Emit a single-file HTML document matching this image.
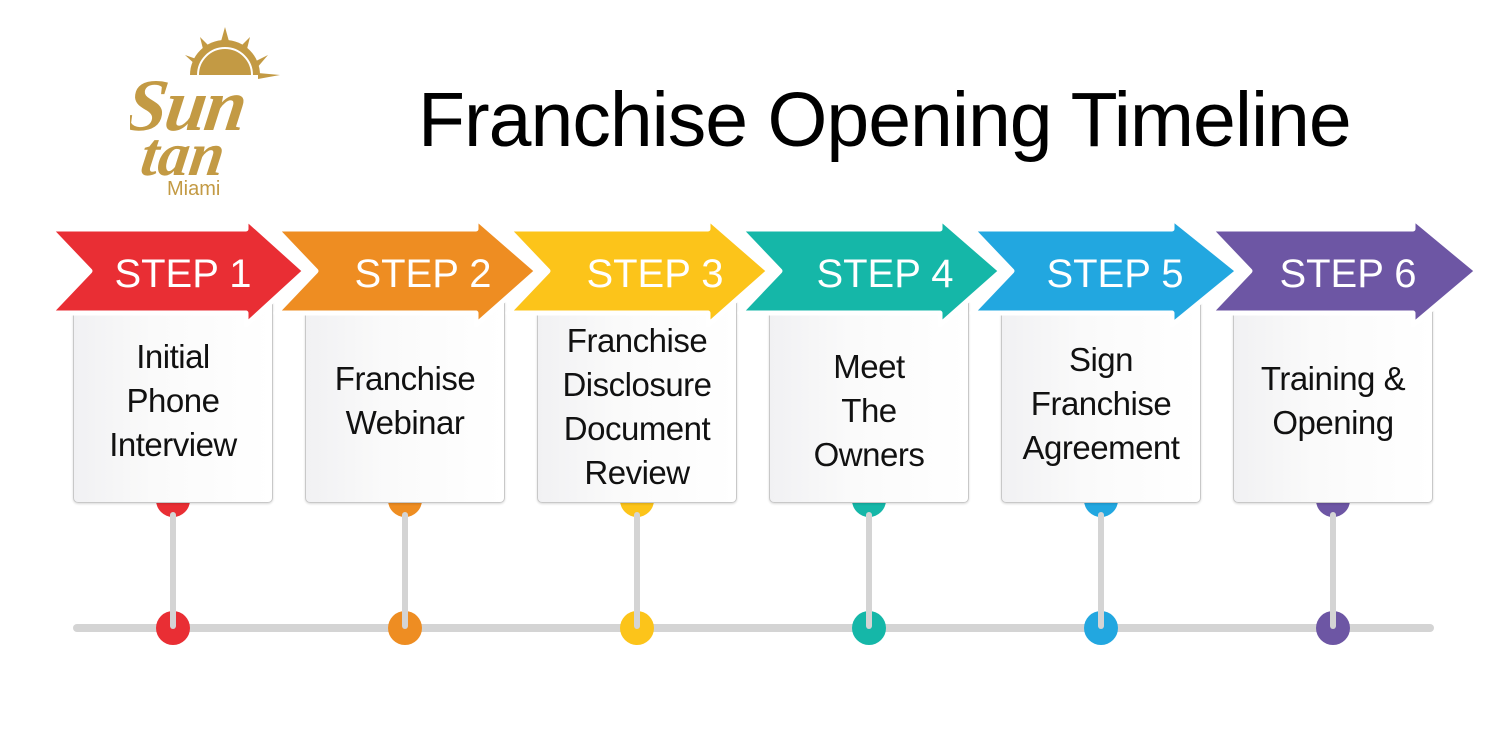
<!DOCTYPE html>
<html><head><meta charset="utf-8"><style>
html,body{margin:0;padding:0;background:#fff;}
body{width:1500px;height:750px;position:relative;overflow:hidden;font-family:"Liberation Sans",sans-serif;}
.title{position:absolute;left:418px;top:76px;font-size:77px;color:#000;white-space:nowrap;letter-spacing:-1px;}
.box{position:absolute;top:298px;width:198px;height:203px;border:1px solid #c8c8c8;border-radius:5px;background:linear-gradient(90deg,#f1f1f3,#fafafa 40%,#fff);box-shadow:0 1px 2px rgba(0,0,0,.15);display:flex;align-items:center;justify-content:center;text-align:center;font-size:33px;line-height:44px;color:#111;letter-spacing:-0.5px;}
.box span{display:block;padding-top:0px;}
</style></head><body>
<svg width="1500" height="750" style="position:absolute;left:0;top:0">
<line x1="77" y1="628" x2="1430" y2="628" stroke="#d4d4d4" stroke-width="8" stroke-linecap="round"/>
<circle cx="173" cy="500" r="17" fill="#e92e34"/><circle cx="405" cy="500" r="17" fill="#ee8d22"/><circle cx="637" cy="500" r="17" fill="#fcc41a"/><circle cx="869" cy="500" r="17" fill="#15b7a8"/><circle cx="1101" cy="500" r="17" fill="#22a7e0"/><circle cx="1333" cy="500" r="17" fill="#6d56a4"/>
<g stroke="#d4d4d4" stroke-width="6" stroke-linecap="round">
<line x1="173" y1="515" x2="173" y2="626"/><line x1="405" y1="515" x2="405" y2="626"/><line x1="637" y1="515" x2="637" y2="626"/><line x1="869" y1="515" x2="869" y2="626"/><line x1="1101" y1="515" x2="1101" y2="626"/><line x1="1333" y1="515" x2="1333" y2="626"/>
</g>
<circle cx="173" cy="628" r="17" fill="#e92e34"/><circle cx="405" cy="628" r="17" fill="#ee8d22"/><circle cx="637" cy="628" r="17" fill="#fcc41a"/><circle cx="869" cy="628" r="17" fill="#15b7a8"/><circle cx="1101" cy="628" r="17" fill="#22a7e0"/><circle cx="1333" cy="628" r="17" fill="#6d56a4"/>
<g stroke="#d4d4d4" stroke-width="6" stroke-linecap="round">
<line x1="173" y1="600" x2="173" y2="626"/><line x1="405" y1="600" x2="405" y2="626"/><line x1="637" y1="600" x2="637" y2="626"/><line x1="869" y1="600" x2="869" y2="626"/><line x1="1101" y1="600" x2="1101" y2="626"/><line x1="1333" y1="600" x2="1333" y2="626"/>
</g>
</svg>
<div class="title">Franchise Opening Timeline</div>
<svg width="170" height="180" style="position:absolute;left:130px;top:25px">
<g fill="#c39a44">
<path d="M60 50 A35 35 0 0 1 130 50 Z"/>
<polygon points="95,2 100,20 90,20"/><polygon points="70,12 82,24 74,28"/><polygon points="120,12 108,24 116,28"/><polygon points="55,30 72,36 68,42"/><polygon points="138,30 122,38 126,44"/><polygon points="150,50 128,48 128,54"/>
</g>
<path d="M68 50 A27 27 0 0 1 122 50" fill="none" stroke="#fff" stroke-width="2"/>
<text x="8" y="105" font-family="Liberation Serif,serif" font-style="italic" font-weight="bold" font-size="74" fill="#c39a44" transform="skewX(-8)" textLength="120">Sun</text>
<text x="30" y="150" font-family="Liberation Serif,serif" font-style="italic" font-weight="bold" font-size="62" fill="#c39a44" transform="skewX(-8)">tan</text>
<text x="37" y="170" font-family="Liberation Sans,sans-serif" font-size="20" fill="#c39a44">Miami</text>
</svg>
<div class="box" style="left:73px"><span>Initial<br>Phone<br>Interview</span></div>
<div class="box" style="left:305px"><span>Franchise<br>Webinar</span></div>
<div class="box" style="left:537px"><span style="padding-top:12px">Franchise<br>Disclosure<br>Document<br>Review</span></div>
<div class="box" style="left:769px"><span style="padding-top:20px">Meet<br>The<br>Owners</span></div>
<div class="box" style="left:1001px"><span style="padding-top:6px">Sign<br>Franchise<br>Agreement</span></div>
<div class="box" style="left:1233px"><span>Training &amp;<br>Opening</span></div>
<svg width="1500" height="750" style="position:absolute;left:0;top:0">
<g stroke="#fff" stroke-width="5" stroke-linejoin="round">
<polygon fill="#e92e34" points="50,229 246,229 246,218 305,271 246,325 246,313 50,313 90,271"/>
<polygon fill="#ee8d22" points="276,229 476,229 476,218 537,271 476,325 476,313 276,313 316,271"/>
<polygon fill="#fcc41a" points="508,229 708,229 708,218 769,271 708,325 708,313 508,313 548,271"/>
<polygon fill="#15b7a8" points="740,229 940,229 940,218 1001,271 940,325 940,313 740,313 780,271"/>
<polygon fill="#22a7e0" points="972,229 1172,229 1172,218 1238,271 1172,325 1172,313 972,313 1012,271"/>
<polygon fill="#6d56a4" points="1210,229 1413,229 1413,218 1477,271 1413,325 1413,313 1210,313 1250,271"/>
</g>
<g fill="#fff" font-family="Liberation Sans,sans-serif" font-size="40" text-anchor="middle">
<text x="183" y="287">STEP 1</text><text x="423" y="287">STEP 2</text><text x="655" y="287">STEP 3</text><text x="885" y="287">STEP 4</text><text x="1115" y="287">STEP 5</text><text x="1348" y="287">STEP 6</text>
</g>
</svg>
</body></html>
